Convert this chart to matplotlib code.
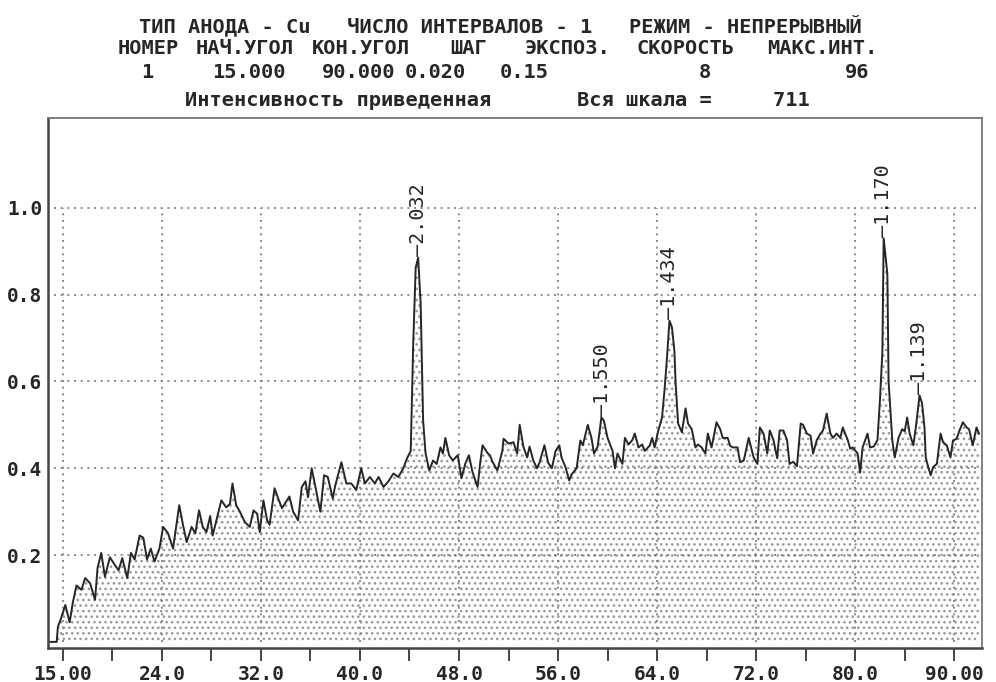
import numpy as np
import matplotlib
matplotlib.use("Agg")
import matplotlib.pyplot as plt

# diffraction pattern (2theta, normalised intensity)
two_theta = [
    15.0, 15.5, 15.6, 15.8, 16.2, 16.55, 16.8, 17.1, 17.5, 17.8, 18.2, 18.6, 18.8, 19.1, 19.4,
    19.8, 20.2, 20.5, 20.8, 21.2, 21.5, 21.8, 22.2, 22.5, 22.8, 23.1, 23.4, 23.8, 24.1, 24.5,
    24.9, 25.4, 25.7, 26.0, 26.4, 26.7, 27.0, 27.3, 27.6, 27.9, 28.1, 28.4, 28.8, 29.2, 29.5,
    29.7, 30.0, 30.3, 30.7, 31.1, 31.4, 31.7, 31.9, 32.2, 32.5, 32.7, 33.1, 33.4, 33.7, 34.1,
    34.3, 34.6, 35.0, 35.3, 35.6, 35.8, 36.1, 36.4, 36.8, 37.1, 37.4, 37.8, 38.0, 38.5, 38.9,
    39.3, 39.7, 40.1, 40.4, 40.8, 41.2, 41.5, 41.9, 42.3, 42.7, 43.1, 43.5, 43.8, 44.1, 44.3,
    44.5, 44.7, 44.9, 45.1, 45.3, 45.6, 45.9, 46.2, 46.5, 46.7, 46.9, 47.2, 47.5, 47.9, 48.2,
    48.5, 48.8, 49.1, 49.5, 49.7, 49.9, 50.3, 50.5, 50.7, 51.1, 51.5, 51.6, 52.0, 52.4, 52.7,
    52.9, 53.2, 53.5, 53.7, 54.0, 54.3, 54.5, 54.9, 55.2, 55.5, 55.8, 56.1, 56.3, 56.6, 56.9,
    57.1, 57.5, 57.8, 58.0, 58.4, 58.7, 58.9, 59.2, 59.5, 59.7, 60.0, 60.4, 60.6, 60.8, 61.2,
    61.4, 61.7, 62.0, 62.2, 62.5, 62.8, 63.0, 63.4, 63.6, 63.8, 64.1, 64.4, 64.6, 64.8, 65.0,
    65.2, 65.4, 65.5, 65.7, 66.0, 66.3, 66.5, 66.8, 67.1, 67.3, 67.6, 67.9, 68.1, 68.4, 68.8,
    69.1, 69.3, 69.7, 69.9, 70.1, 70.5, 70.7, 71.0, 71.4, 71.8, 72.1, 72.3, 72.6, 72.9, 73.1,
    73.4, 73.7, 73.9, 74.2, 74.5, 74.7, 75.0, 75.3, 75.6, 75.8, 76.1, 76.4, 76.6, 76.9, 77.2,
    77.4, 77.7, 78.0, 78.2, 78.5, 78.8, 79.0, 79.4, 79.6, 79.8, 80.2, 80.4, 80.6, 81.0, 81.2,
    81.5, 81.8, 82.0, 82.2, 82.3, 82.6, 82.7, 83.0, 83.2, 83.5, 83.8, 84.0, 84.2, 84.4, 84.7,
    84.9, 85.2, 85.4, 85.6, 85.7, 85.9, 86.1, 86.3, 86.6, 86.9, 87.1, 87.4, 87.7, 87.9, 88.2,
    88.4, 88.7, 89.0, 89.2, 89.5, 89.8, 90.0,
]
intensity = [
    0.0, 0.0, 0.035, 0.05, 0.085, 0.045, 0.09, 0.13, 0.12, 0.147, 0.135, 0.097, 0.17, 0.205, 0.15,
    0.195, 0.177, 0.165, 0.193, 0.147, 0.205, 0.19, 0.245, 0.24, 0.19, 0.215, 0.185, 0.215, 0.265, 0.25,
    0.215, 0.315, 0.27, 0.23, 0.265, 0.25, 0.303, 0.265, 0.253, 0.29, 0.245, 0.28, 0.326, 0.31, 0.318,
    0.365, 0.315, 0.30, 0.276, 0.265, 0.303, 0.295, 0.253, 0.326, 0.28, 0.27, 0.354, 0.33, 0.308, 0.326,
    0.335, 0.30, 0.28, 0.357, 0.37, 0.333, 0.40, 0.357, 0.30, 0.384, 0.38, 0.33, 0.36, 0.414, 0.365,
    0.365, 0.35, 0.40, 0.365, 0.38, 0.365, 0.38, 0.357, 0.37, 0.388, 0.38, 0.40, 0.423, 0.44, 0.687,
    0.862, 0.885, 0.78, 0.51, 0.434, 0.395, 0.418, 0.41, 0.448, 0.434, 0.47, 0.43, 0.418, 0.43, 0.377,
    0.41, 0.43, 0.39, 0.357, 0.41, 0.453, 0.435, 0.43, 0.415, 0.395, 0.44, 0.468, 0.457, 0.46, 0.434,
    0.50, 0.45, 0.425, 0.45, 0.418, 0.40, 0.413, 0.453, 0.413, 0.40, 0.44, 0.453, 0.423, 0.403, 0.372,
    0.386, 0.40, 0.464, 0.453, 0.50, 0.47, 0.434, 0.45, 0.517, 0.51, 0.47, 0.44, 0.40, 0.434, 0.41,
    0.47, 0.455, 0.465, 0.48, 0.448, 0.455, 0.44, 0.452, 0.47, 0.448, 0.487, 0.517, 0.58, 0.655, 0.74,
    0.725, 0.67, 0.595, 0.503, 0.483, 0.538, 0.503, 0.49, 0.448, 0.455, 0.448, 0.434, 0.48, 0.448, 0.506,
    0.49, 0.47, 0.47, 0.452, 0.448, 0.448, 0.414, 0.418, 0.47, 0.425, 0.41, 0.494, 0.48, 0.434, 0.487,
    0.465, 0.423, 0.487, 0.487, 0.465, 0.41, 0.415, 0.405, 0.503, 0.50, 0.48, 0.475, 0.434, 0.465, 0.48,
    0.487, 0.526, 0.48, 0.47, 0.48, 0.47, 0.494, 0.465, 0.445, 0.448, 0.434, 0.39, 0.448, 0.48, 0.448,
    0.45, 0.465, 0.556, 0.67, 0.93, 0.848, 0.60, 0.464, 0.425, 0.47, 0.49, 0.485, 0.517, 0.48, 0.453,
    0.494, 0.568, 0.55, 0.494, 0.425, 0.403, 0.384, 0.403, 0.41, 0.48, 0.46, 0.453, 0.425, 0.464, 0.468,
    0.485, 0.506, 0.494, 0.49, 0.453, 0.494, 0.48,
]

# labelled peaks (d-spacings)
peak_pos = [44.7, 59.6, 65.0, 82.3, 85.2]
peak_d = ["2.032", "1.550", "1.434", "1.170", "1.139"]

x_grid = [16, 24, 32, 40, 48, 56, 64, 72, 80, 88]
x_tick_labels = ["15.00", "24.0", "32.0", "40.0", "48.0", "56.0", "64.0", "72.0", "80.0", "90.00"]
x_minor = [20, 28, 36, 44, 52, 60, 68, 76, 84]
y_grid = [0.2, 0.4, 0.6, 0.8, 1.0]
y_tick_labels = ["0.2", "0.4", "0.6", "0.8", "1.0"]

title_line = "ТИП АНОДА - Cu   ЧИСЛО ИНТЕРВАЛОВ - 1   РЕЖИМ - НЕПРЕРЫВНЫЙ"
param_names = ["НОМЕР", "НАЧ.УГОЛ", "КОН.УГОЛ", "ШАГ", "ЭКСПОЗ.", "СКОРОСТЬ", "МАКС.ИНТ."]
param_values = ["1", "15.000", "90.000", "0.020", "0.15", "8", "96"]
scale_line = "Интенсивность приведенная       Вся шкала =     711"

# left edges (px) of the header columns
name_left = [118, 196, 312, 450, 524, 636, 767]
value_left = [141, 212, 322, 405, 500, 699, 845]

MONO = "DejaVu Sans Mono"
INK = "#262626"
HEAD = 14.7
W, H = 996, 682
plt.rcParams["hatch.linewidth"] = 1.1

fig = plt.figure(figsize=(W / 100, H / 100), dpi=100)
ax = fig.add_axes([0.0482, 0.0499, 0.9378, 0.7771])
ax.set_xlim(14.8, 90.25)
ax.set_ylim(-0.014, 1.207)

x = np.array(two_theta)
y = np.array(intensity)

# dotted fill under the trace
ax.fill_between(x, 0, y, facecolor="none", edgecolor="#9a9a9a", hatch="...",
                linewidth=0, zorder=1)

# dotted grid, only up to 1.0
dots = (0, (1.2, 2.8))
ax.vlines(x_grid, 0, 1.0, colors="#7a7a7a", linestyles=dots, linewidth=1.2, zorder=2)
ax.hlines(y_grid, 15.3, 90.2, colors="#7a7a7a", linestyles=dots, linewidth=1.2, zorder=2)

ax.plot(x, y, color=INK, linewidth=1.4, zorder=3)

# d-spacing labels
for pos, d in zip(peak_pos, peak_d):
    top = y[(x > pos - 0.4) & (x < pos + 0.4)].max()
    ax.text(pos, top + 0.003, "–" + d, rotation=90, ha="center", va="bottom",
            family=MONO, fontsize=14.5, color=INK, zorder=4)

ax.set_xticks(x_grid)
ax.set_xticklabels(x_tick_labels)
ax.set_xticks(x_minor, minor=True)
ax.set_yticks(y_grid)
ax.set_yticklabels(y_tick_labels)
ax.tick_params(axis="x", which="both", direction="out", length=9, width=1.4,
               color="#444444", pad=3)
ax.tick_params(axis="y", length=0, pad=4)
for lab in ax.get_xticklabels() + ax.get_yticklabels():
    lab.set_family(MONO)
    lab.set_fontweight("bold")
    lab.set_fontsize(14)
    lab.set_color(INK)

for side in ["left", "bottom"]:
    ax.spines[side].set_color("#444444")
    ax.spines[side].set_linewidth(1.8)
for side in ["top", "right"]:
    ax.spines[side].set_color("#777777")
    ax.spines[side].set_linewidth(1.3)

# header block
head = dict(family=MONO, fontweight="bold", fontsize=HEAD, color=INK, va="center")
fig.text(0.502, 1 - 25 / H, title_line, ha="center", **head)
for name, left in zip(param_names, name_left):
    fig.text(left / W, 1 - 48 / H, name, ha="left", **head)
for val, left in zip(param_values, value_left):
    fig.text(left / W, 1 - 73 / H, val, ha="left", **head)
fig.text(185 / W, 1 - 101 / H, scale_line, ha="left", **head)

plt.savefig("out.png", dpi=100)
plt.close()
